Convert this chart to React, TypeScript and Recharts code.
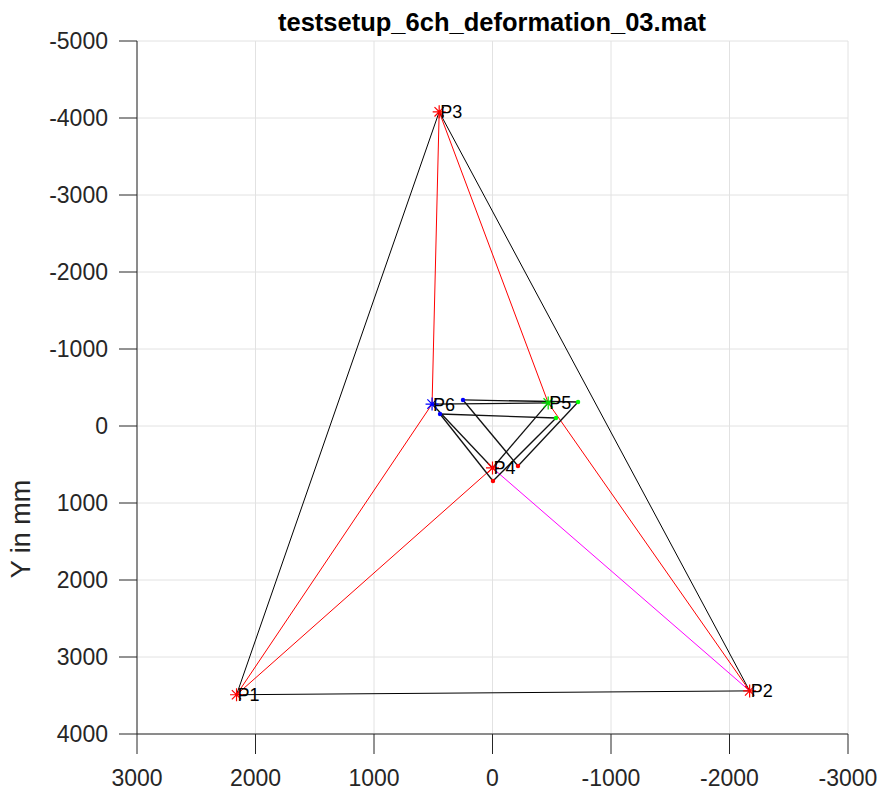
import React from 'react';
import { ScatterChart, Scatter, XAxis, YAxis, CartesianGrid } from 'recharts';

// Measurement points of the test setup (mm)
const nodeNames = ['P1', 'P2', 'P3', 'P4', 'P5', 'P6'];
const nodeX = [2160, -2170, 450, 0, -470, 510];
const nodeY = [3490, 3440, -4080, 545, -300, -285];

// Inner nodes and their positions in two later readings
const movingNodes = ['P4', 'P5', 'P6'];
const readingBX = [-215, -722, 249];
const readingBY = [519, -312, -338];
const readingCX = [-4, -536, 443];
const readingCY = [714, -104, -156];

// Connections between nodes
const frameEdges: [string, string][] = [['P1', 'P2'], ['P2', 'P3'], ['P3', 'P1']];
const redEdges: [string, string][] = [['P3', 'P6'], ['P6', 'P1'], ['P3', 'P5'], ['P5', 'P2'], ['P1', 'P4']];
const magentaEdges: [string, string][] = [['P4', 'P2']];
const innerEdges: [string, string][] = [['P6', 'P5'], ['P5', 'P4'], ['P4', 'P6']];

const xTicks = [3000, 2000, 1000, 0, -1000, -2000, -3000];
const yTicks = [-5000, -4000, -3000, -2000, -1000, 0, 1000, 2000, 3000, 4000];

const FONT = "'Liberation Sans', Arial, Helvetica, sans-serif";
const AXIS_COLOR = '#262626';
const markerColor: Record<string, string> = {
  P1: '#ff0000', P2: '#ff0000', P3: '#ff0000', P4: '#ff0000', P5: '#00dd00', P6: '#0000ff',
};
const dotColor: Record<string, string> = { P4: '#ff0000', P5: '#00ff00', P6: '#0000ff' };

type Pt = { name: string; x: number; y: number };

const nodes: Pt[] = nodeNames.map((name, i) => ({ name, x: nodeX[i], y: nodeY[i] }));
const byName = (list: Pt[]) => Object.fromEntries(list.map((p) => [p.name, p]));
const mainPos = byName(nodes);
const readingB: Pt[] = movingNodes.map((name, i) => ({ name, x: readingBX[i], y: readingBY[i] }));
const readingC: Pt[] = movingNodes.map((name, i) => ({ name, x: readingCX[i], y: readingCY[i] }));
const posB = byName(readingB);
const posC = byName(readingC);

const segs = (edges: [string, string][], pos: Record<string, Pt>) =>
  edges.map(([a, b]) => [pos[a], pos[b]]);

const NoShape = () => <g />;

const StarMarker = (props: any) => {
  const { cx, cy, payload } = props;
  const r = 6.5;
  const d = r * 0.72;
  const c = markerColor[payload.name];
  return (
    <g>
      <path
        d={`M${cx - r},${cy}H${cx + r}M${cx},${cy - r}V${cy + r}M${cx - d},${cy - d}L${cx + d},${cy + d}M${cx - d},${cy + d}L${cx + d},${cy - d}`}
        stroke={c}
        strokeWidth={1.2}
        fill="none"
      />
      <text x={cx + 1} y={cy} dy="0.36em" fontSize={18} fontFamily={FONT} fill="#000">
        {payload.name}
      </text>
    </g>
  );
};

const DotMarker = (props: any) => {
  const { cx, cy, payload } = props;
  return <circle cx={cx} cy={cy} r={2.2} fill={dotColor[payload.name]} />;
};

const edgeSeries = (list: Pt[][], color: string, key: string, width = 1) =>
  list.map((seg, i) => (
    <Scatter
      key={`${key}-${i}`}
      data={seg}
      line={{ stroke: color, strokeWidth: width }}
      shape={NoShape}
      isAnimationActive={false}
    />
  ));

export default function App() {
  const tickStyle = { fill: AXIS_COLOR, fontSize: 23, fontFamily: FONT };
  return (
    <div style={{ position: 'absolute', left: 0, top: 0, width: 882, height: 793, background: '#fff' }}>
      <ScatterChart width={882} height={793} margin={{ top: 41, right: 34, bottom: 0, left: 0 }}>
        <CartesianGrid stroke="#e2e2e2" strokeWidth={1} />
        <XAxis
          type="number"
          dataKey="x"
          domain={[-3000, 3000]}
          reversed
          ticks={xTicks}
          allowDataOverflow
          height={59}
          tickSize={20}
          tickMargin={16}
          tick={tickStyle}
          axisLine={{ stroke: AXIS_COLOR }}
          tickLine={{ stroke: AXIS_COLOR }}
        />
        <YAxis
          type="number"
          dataKey="y"
          domain={[-5000, 4000]}
          reversed
          ticks={yTicks}
          allowDataOverflow
          width={137}
          tickSize={18}
          tickMargin={11}
          tick={tickStyle}
          axisLine={{ stroke: AXIS_COLOR }}
          tickLine={{ stroke: AXIS_COLOR }}
        />
        {edgeSeries(segs(frameEdges, mainPos), '#000000', 'frame')}
        {edgeSeries(segs(redEdges, mainPos), '#ff0000', 'red')}
        {edgeSeries(segs(magentaEdges, mainPos), '#ff00ff', 'magenta')}
        {edgeSeries(segs(innerEdges, mainPos), '#111111', 'innerA', 1.3)}
        {edgeSeries(segs(innerEdges, posB), '#111111', 'innerB', 1.3)}
        {edgeSeries(segs(innerEdges, posC), '#111111', 'innerC', 1.3)}
        <Scatter data={readingB} shape={DotMarker} isAnimationActive={false} />
        <Scatter data={readingC} shape={DotMarker} isAnimationActive={false} />
        <Scatter data={nodes} shape={StarMarker} isAnimationActive={false} />
      </ScatterChart>
      <svg width={882} height={793} style={{ position: 'absolute', left: 0, top: 0, pointerEvents: 'none' }}>
        <text x={492} y={31} textAnchor="middle" fontSize={25.5} fontWeight="bold" fontFamily={FONT} fill="#000">
          testsetup_6ch_deformation_03.mat
        </text>
        <text transform="translate(30,529) rotate(-90)" textAnchor="middle" fontSize={27} fontFamily={FONT} fill={AXIS_COLOR}>
          Y in mm
        </text>
      </svg>
    </div>
  );
}
